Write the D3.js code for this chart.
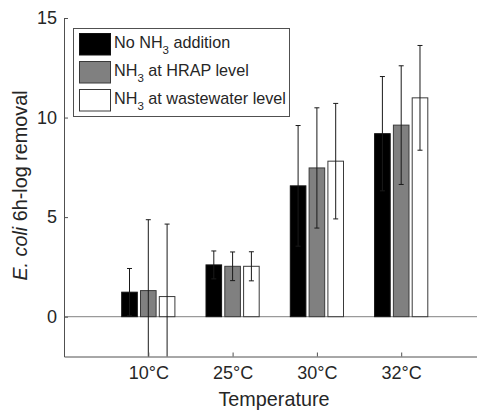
<!DOCTYPE html>
<html>
<head>
<meta charset="utf-8">
<script src="https://cdn.jsdelivr.net/npm/d3@7"></script>
<style>
  html, body { margin: 0; padding: 0; background: #fff; }
  svg { display: block; font-family: "Liberation Sans", Arial, sans-serif; }
</style>
</head>
<body>
<svg id="chart" width="477" height="410"></svg>
<script>
// ---- data ----
const categories = ["10°C", "25°C", "30°C", "32°C"];
const seriesNames = ["No NH3 addition", "NH3 at HRAP level", "NH3 at wastewater level"];
const noNH3     = [1.23, 2.60, 6.57, 9.19];
const noNH3Err  = [1.19, 0.70, 3.03, 2.87];
const hrap      = [1.31, 2.53, 7.47, 9.62];
const hrapErr   = [3.56, 0.72, 3.02, 2.98];
const wastewater    = [1.01, 2.53, 7.81, 10.99];
const wastewaterErr = [3.64, 0.73, 2.90, 2.63];
const yTicks = [0, 5, 10, 15];

const series = [
  { name: seriesNames[0], values: noNH3, errs: noNH3Err, fill: "#000000", stroke: "#111111" },
  { name: seriesNames[1], values: hrap, errs: hrapErr, fill: "#808080", stroke: "#3a3a3a" },
  { name: seriesNames[2], values: wastewater, errs: wastewaterErr, fill: "#ffffff", stroke: "#3a3a3a" }
];

const svg = d3.select("#chart");
const mLeft = 64, mBottom = 356.5, mTop = 18;

const x = d3.scaleLinear().domain([0, 5]).range([mLeft, mLeft + 5 * 84.3]);
const y = d3.scaleLinear().domain([-2, 15]).range([mBottom, mTop]);

const barW = 0.185, pitch = 0.223;
const axisColor = "#505050", textColor = "#262626";

// clip
svg.append("clipPath").attr("id", "plotclip")
  .append("rect").attr("x", mLeft).attr("y", mTop - 1).attr("width", 477 - mLeft).attr("height", mBottom - mTop + 1);

const plot = svg.append("g").attr("clip-path", "url(#plotclip)");

// zero line
plot.append("line")
  .attr("x1", x(0)).attr("x2", x(5))
  .attr("y1", y(0)).attr("y2", y(0))
  .attr("stroke", "#9a9a9a").attr("stroke-width", 1.2);

// bars
series.forEach((s, si) => {
  const off = (si - 1) * pitch;
  plot.selectAll(null).data(s.values).enter().append("rect")
    .attr("x", (d, i) => x(i + 1 + off - barW / 2))
    .attr("width", x(barW) - x(0))
    .attr("y", d => y(Math.max(d, 0)))
    .attr("height", d => Math.abs(y(d) - y(0)))
    .attr("fill", s.fill)
    .attr("stroke", s.stroke)
    .attr("stroke-width", 1);
});

// error bars
series.forEach((s, si) => {
  const off = (si - 1) * pitch;
  const g = plot.append("g").attr("stroke", "#1a1a1a").attr("stroke-width", 1);
  s.values.forEach((v, i) => {
    const cx = x(i + 1 + off);
    const lo = v - s.errs[i], hi = v + s.errs[i];
    g.append("line").attr("x1", cx).attr("x2", cx).attr("y1", y(lo)).attr("y2", y(hi));
    g.append("line").attr("x1", cx - 2.5).attr("x2", cx + 2.5).attr("y1", y(hi)).attr("y2", y(hi));
    g.append("line").attr("x1", cx - 2.5).attr("x2", cx + 2.5).attr("y1", y(lo)).attr("y2", y(lo));
  });
});

// axes
const yAxis = d3.axisLeft(y).tickValues(yTicks).tickSizeInner(-4).tickSizeOuter(0).tickPadding(7);
const gy = svg.append("g").attr("transform", `translate(${mLeft},0)`).call(yAxis);
gy.select(".domain").attr("stroke", axisColor);
gy.selectAll(".tick line").attr("stroke", axisColor);
gy.selectAll(".tick text").attr("font-size", 18).attr("fill", textColor)
  .attr("font-family", "Liberation Sans, Arial, sans-serif");

const xAxis = d3.axisBottom(x).tickValues([1, 2, 3, 4]).tickFormat((d) => categories[d - 1])
  .tickSizeInner(-4).tickSizeOuter(0).tickPadding(10);
const gx = svg.append("g").attr("transform", `translate(0,${mBottom})`).call(xAxis);
gx.select(".domain").attr("stroke", axisColor);
gx.selectAll(".tick line").attr("stroke", axisColor);
gx.selectAll(".tick text").attr("font-size", 18).attr("fill", textColor)
  .attr("font-family", "Liberation Sans, Arial, sans-serif");

// axis labels
svg.append("text")
  .attr("x", 274).attr("y", 406)
  .attr("text-anchor", "middle").attr("font-size", 19.8).attr("fill", textColor)
  .text("Temperature");

const yl = svg.append("text")
  .attr("transform", `translate(27,185.5) rotate(-90)`)
  .attr("text-anchor", "middle").attr("font-size", 19.8).attr("fill", textColor);
yl.append("tspan").attr("font-style", "italic").text("E. coli");
yl.append("tspan").text(" 6h-log removal");

// legend
const lg = svg.append("g");
lg.append("rect").attr("x", 73.5).attr("y", 28.5).attr("width", 216).attr("height", 88)
  .attr("fill", "#fff").attr("stroke", axisColor).attr("stroke-width", 1);
const rowY = [33.5, 61.5, 89.5];
series.forEach((s, i) => {
  lg.append("rect").attr("x", 79.5).attr("y", rowY[i]).attr("width", 31).attr("height", 21.5)
    .attr("fill", s.fill).attr("stroke", s.stroke).attr("stroke-width", 1);
  const t = lg.append("text").attr("x", 114).attr("y", rowY[i] + 14.5)
    .attr("font-size", 16.2).attr("fill", textColor);
  const parts = s.name.split("NH3");
  parts.forEach((p, pi) => {
    if (pi > 0) {
      t.append("tspan").text("NH");
      t.append("tspan").attr("font-size", 11.5).attr("dy", 6).text("3");
      t.append("tspan").attr("dy", -6).text(p);
    } else if (p.length) {
      t.append("tspan").text(p);
    }
  });
});
</script>
</body>
</html>
